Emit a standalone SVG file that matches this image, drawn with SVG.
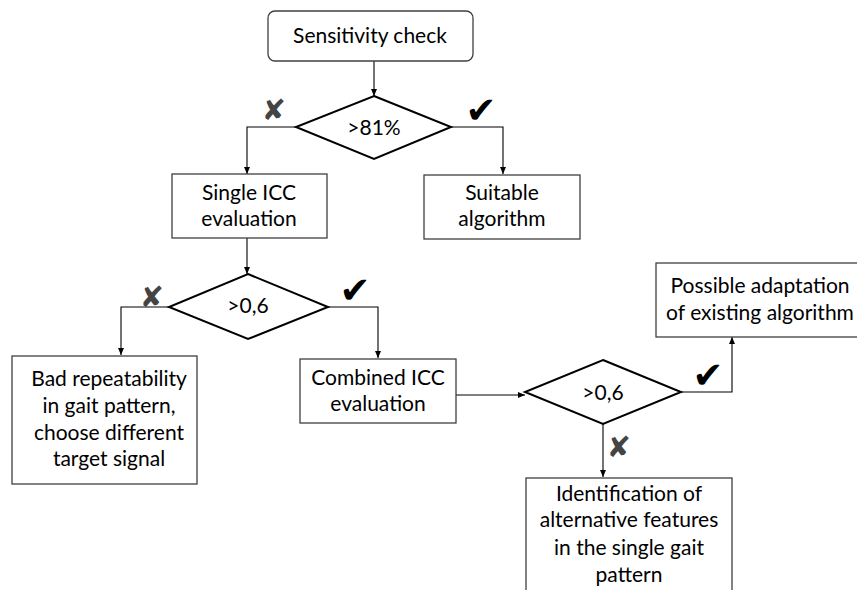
<svg xmlns="http://www.w3.org/2000/svg" width="857" height="590" viewBox="0 0 857 590">
<style>
.box{fill:#fff;stroke:#404040;stroke-width:1.3}
.dia{fill:#fff;stroke:#000;stroke-width:2}
.t{font-family:Lato,"Liberation Sans",sans-serif;font-size:21px;fill:#000;text-anchor:middle}
.c{fill:none;stroke:#000;stroke-width:1.1}
.chk{font-family:"DejaVu Sans",sans-serif;font-size:37px;fill:#000;text-anchor:middle}
.x{font-family:"DejaVu Sans",sans-serif;font-size:29px;fill:#444;text-anchor:middle}
</style>
<defs>
<marker id="ah" markerWidth="8" markerHeight="8" refX="7" refY="4" orient="auto" markerUnits="userSpaceOnUse">
<path d="M0,1 L7,4 L0,7 Z" fill="#000"/>
</marker>
</defs>
<rect width="857" height="590" fill="#fff"/>
<g id="connectors">
<path class="c" d="M374,61 V96" marker-end="url(#ah)"/>
<path class="c" d="M296,127 H247 V174" marker-end="url(#ah)"/>
<path class="c" d="M451,127 H503 V174" marker-end="url(#ah)"/>
<path class="c" d="M247,238 V274" marker-end="url(#ah)"/>
<path class="c" d="M169,307 H121 V355" marker-end="url(#ah)"/>
<path class="c" d="M328,307 H378 V358" marker-end="url(#ah)"/>
<path class="c" d="M456,395 H525" marker-end="url(#ah)"/>
<path class="c" d="M681,392 H732 V337" marker-end="url(#ah)"/>
<path class="c" d="M603,424 V477" marker-end="url(#ah)"/>
</g>
<g id="n_sensitivity">
<rect class="box" x="268" y="11" width="205" height="50" rx="7"/>
<text class="t" x="370" y="43">Sensitivity check</text>
</g>
<g id="n_d1">
<polygon class="dia" points="374,96 451,127 374,159 296,127"/>
<text class="t" x="374" y="135">&gt;81%</text>
</g>
<g id="n_single">
<rect class="box" x="172" y="174" width="155" height="64"/>
<text class="t" x="249" y="200">Single ICC</text>
<text class="t" x="249" y="226">evaluation</text>
</g>
<g id="n_suitable">
<rect class="box" x="424" y="175" width="156" height="64"/>
<text class="t" x="502" y="200">Suitable</text>
<text class="t" x="502" y="226">algorithm</text>
</g>
<g id="n_d2">
<polygon class="dia" points="248,274 328,307 248,339 169,307"/>
<text class="t" x="248" y="313">&gt;0,6</text>
</g>
<g id="n_bad">
<rect class="box" x="12" y="356" width="185" height="128"/>
<text class="t" x="109" y="386">Bad repeatability</text>
<text class="t" x="109" y="413">in gait pattern,</text>
<text class="t" x="109" y="440">choose different</text>
<text class="t" x="109" y="466">target signal</text>
</g>
<g id="n_combined">
<rect class="box" x="300" y="359" width="156" height="64"/>
<text class="t" x="378" y="385">Combined ICC</text>
<text class="t" x="378" y="411">evaluation</text>
</g>
<g id="n_d3">
<polygon class="dia" points="603,360 681,392 603,424 525,392"/>
<text class="t" x="603" y="400">&gt;0,6</text>
</g>
<g id="n_possible">
<rect class="box" x="656" y="263" width="208" height="74"/>
<text class="t" x="760" y="293">Possible adaptation</text>
<text class="t" x="760" y="320">of existing algorithm</text>
</g>
<g id="n_identification">
<rect class="box" x="526" y="478" width="206" height="130"/>
<text class="t" x="629" y="501">Identification of</text>
<text class="t" x="629" y="527">alternative features</text>
<text class="t" x="629" y="555">in the single  gait</text>
<text class="t" x="629" y="582">pattern</text>
</g>
<g id="marks">
<text class="x" x="274" y="120">✘</text>
<text class="chk" x="481" y="123">✔</text>
<text class="x" x="152" y="307">✘</text>
<text class="chk" x="355" y="303">✔</text>
<text class="x" x="619" y="457">✘</text>
<text class="chk" x="708" y="388">✔</text>
</g>
</svg>
